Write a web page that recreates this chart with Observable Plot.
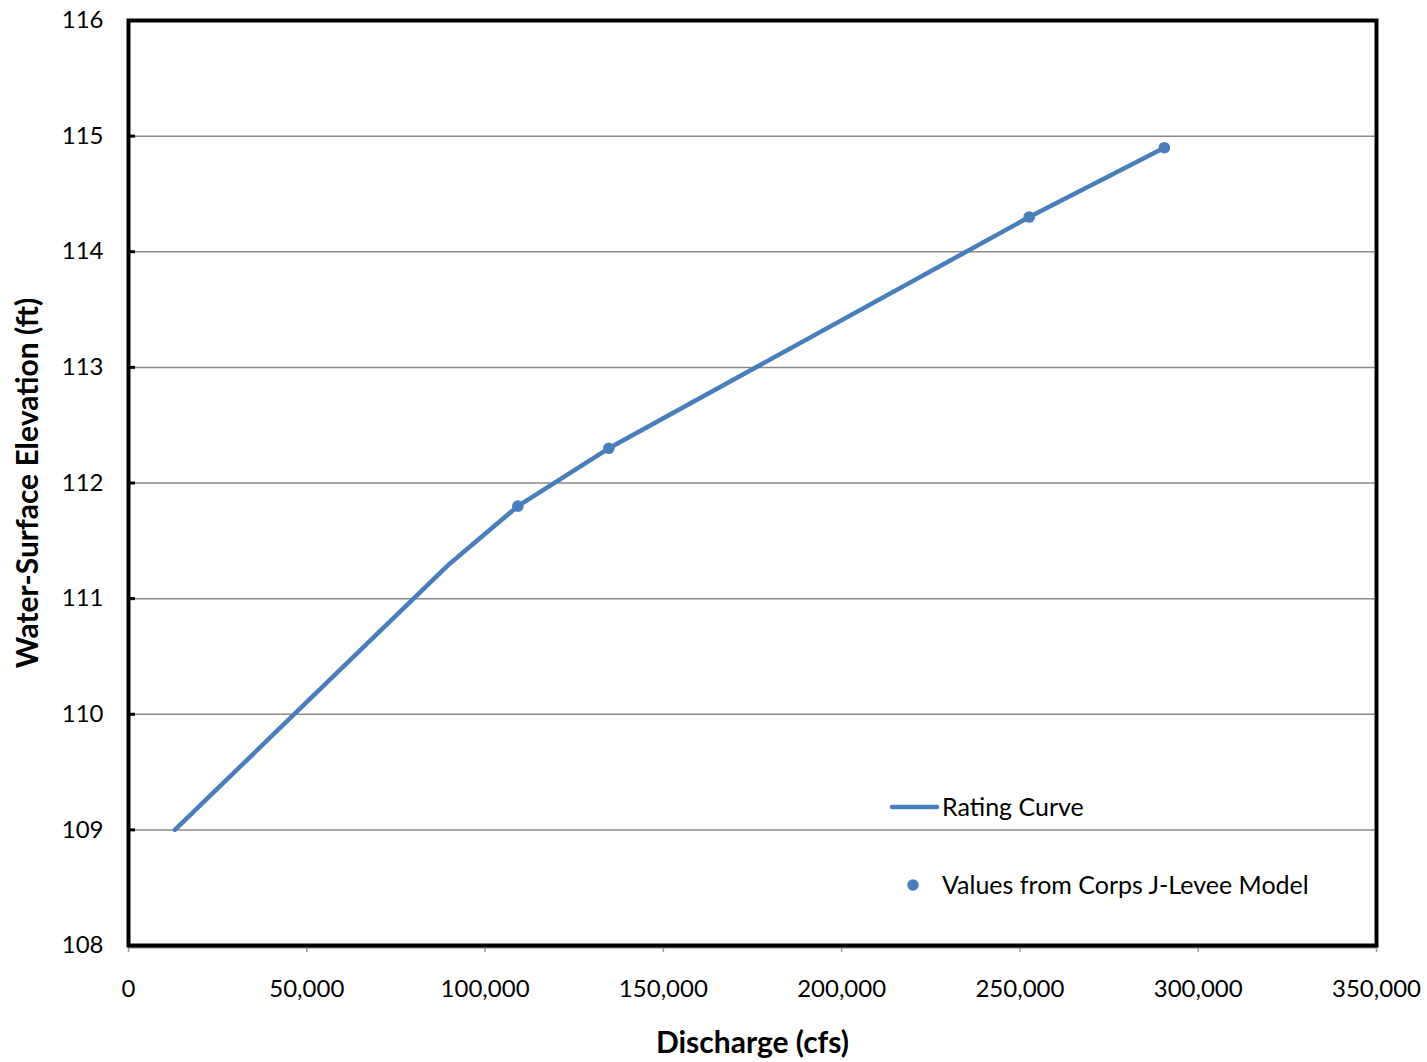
<!DOCTYPE html>
<html>
<head>
<meta charset="utf-8">
<script src="https://cdn.jsdelivr.net/npm/d3@7"></script>
<script src="https://cdn.jsdelivr.net/npm/@observablehq/plot@0.6"></script>
<style>
  body { margin: 0; background: #fff; }
  #chart { position: relative; width: 1427px; height: 1062px; }
</style>
</head>
<body>
<div id="chart"></div>
<script>
// Rating curve (discharge in cfs, elevation in ft)
const curveDischarge = [13000, 90000, 109200, 134700, 252600, 290500];
const curveElevation = [109.0, 111.3, 111.8, 112.3, 114.3, 114.9];
// Values from Corps J-Levee model
const modelDischarge = [109200, 134700, 252600, 290500];
const modelElevation = [111.8, 112.3, 114.3, 114.9];
// Axis ticks
const xTicks = [0, 50000, 100000, 150000, 200000, 250000, 300000, 350000];
const yTicks = [108, 109, 110, 111, 112, 113, 114, 115, 116];
const seriesNames = ["Rating Curve", "Values from Corps J-Levee Model"];

const blue = "#4a7ebb";
const font = "Lato, 'Open Sans', sans-serif";

const curve = curveDischarge.map((d, i) => ({x: d, y: curveElevation[i]}));
const model = modelDischarge.map((d, i) => ({x: d, y: modelElevation[i]}));

const plot = Plot.plot({
  width: 1427,
  height: 1062,
  marginLeft: 128,
  marginTop: 20,
  marginRight: 51,
  marginBottom: 117,
  style: {fontFamily: font, fontSize: "24px", color: "#000", background: "#fff"},
  x: {domain: [0, 350000], label: null},
  y: {domain: [108, 116], label: null},
  marks: [
    Plot.gridY(yTicks.slice(1, -1), {stroke: "#8a8a8a", strokeOpacity: 1, strokeWidth: 1.5}),
    Plot.ruleY([108], {stroke: "#8a8a8a", strokeWidth: 2, dy: 2}),
    Plot.axisX({ticks: xTicks, tickSize: 7, stroke: "#9a9a9a", strokeWidth: 1.5, tickPadding: 27,
      tickFormat: d => d3.format(",")(d), fontSize: 24, fill: "#000"}),
    Plot.axisY({ticks: yTicks, tickSize: -7, stroke: "#000", strokeWidth: 3, tickPadding: 32,
      tickFormat: d => String(d), fontSize: 24, fill: "#000"}),
    Plot.frame({stroke: "#000", strokeWidth: 4}),
    Plot.line(curve, {x: "x", y: "y", stroke: blue, strokeWidth: 4.5}),
    Plot.dot(model, {x: "x", y: "y", fill: blue, r: 5.8}),
    Plot.text(["Discharge (cfs)"], {frameAnchor: "bottom", dy: 107, fontSize: 30, fontWeight: "bold", fill: "#000"}),
    Plot.text(["Water-Surface Elevation (ft)"], {frameAnchor: "left", textAnchor: "middle", dx: -100, rotate: -90, fontSize: 30, fontWeight: "bold", fill: "#000"})
  ]
});

document.getElementById("chart").appendChild(plot);

// Legend inside plot area
const svg = d3.select(plot);
const lg = svg.append("g").attr("font-family", font).attr("font-size", 25).attr("fill", "#000").attr("text-anchor", "start");
lg.append("line").attr("x1", 892).attr("x2", 937).attr("y1", 807).attr("y2", 807)
  .attr("stroke", blue).attr("stroke-width", 4.5).attr("stroke-linecap", "round");
lg.append("text").attr("x", 942).attr("y", 807).attr("dy", "0.35em").text(seriesNames[0]);
lg.append("circle").attr("cx", 913).attr("cy", 885).attr("r", 5.8).attr("fill", blue);
lg.append("text").attr("x", 942).attr("y", 885).attr("dy", "0.35em").text(seriesNames[1]);
</script>
</body>
</html>
